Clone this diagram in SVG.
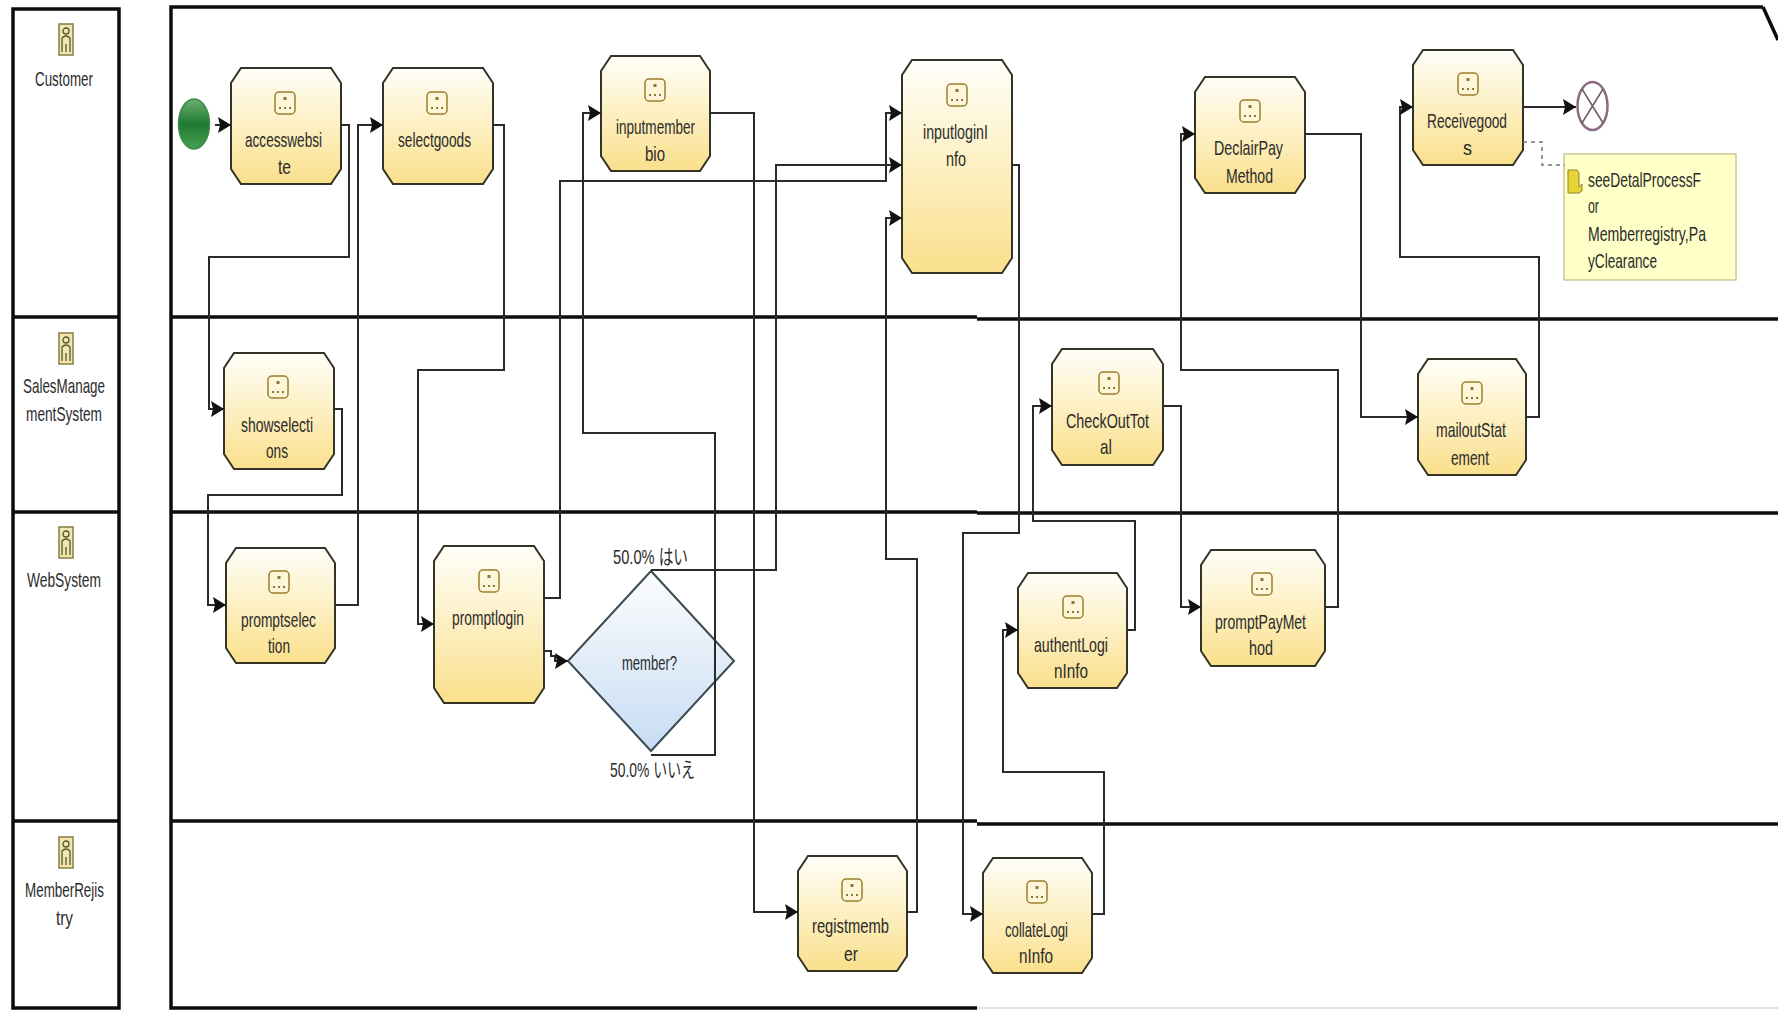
<svg xmlns="http://www.w3.org/2000/svg" width="1778" height="1010" viewBox="0 0 1778 1010">
<style>
text{font-family:"Liberation Sans","Noto Sans CJK JP",sans-serif;font-size:21px;fill:#2b2b2b}
.lane{fill:none;stroke:#0d0d0d;stroke-width:3.5}
.task{fill:url(#taskFill);stroke:#333326;stroke-width:2}
.conn{fill:none;stroke:#2a2a2a;stroke-width:2;marker-end:url(#arrow)}
.dash{fill:none;stroke:#777;stroke-width:1.5;stroke-dasharray:4 4}
.ibox{fill:#fdf6d8;stroke:#9a7d2e;stroke-width:1.5}
.idot{fill:#8a7a3a}
.actor{fill:#efe6b4;stroke:#8b7a3e;stroke-width:1.5}
.person{fill:none;stroke:#5d5228;stroke-width:1.3}
</style>
<defs>
<linearGradient id="taskFill" x1="0" y1="0" x2="0" y2="1"><stop offset="0" stop-color="#fffefa"/><stop offset="0.35" stop-color="#fdf4d2"/><stop offset="1" stop-color="#fae08c"/></linearGradient>
<linearGradient id="gateFill" x1="0" y1="0" x2="0" y2="1"><stop offset="0" stop-color="#fdfdfd"/><stop offset="1" stop-color="#c6dcf4"/></linearGradient>
<linearGradient id="startFill" x1="0" y1="0" x2="0" y2="1"><stop offset="0" stop-color="#6aae74"/><stop offset="0.5" stop-color="#1f7a30"/><stop offset="1" stop-color="#47a052"/></linearGradient>
<marker id="arrow" markerUnits="userSpaceOnUse" markerWidth="16" markerHeight="18" refX="13" refY="8" orient="auto"><path d="M0,0 L13,8 L0,16 L2,8 z" fill="#111"/></marker>
<g id="taskIcon"><rect class="ibox" x="-10" y="-11" width="20" height="22" rx="4"/><rect class="idot" x="-1.5" y="-6" width="3" height="3"/><rect class="idot" x="-6" y="4" width="2" height="2"/><rect class="idot" x="-1" y="4" width="2" height="2"/><rect class="idot" x="4" y="4" width="2" height="2"/></g>
<g id="actorIcon"><rect class="actor" x="-7" y="0" width="14" height="31"/><circle class="person" cx="0" cy="7" r="3"/><path class="person" d="M-4,28 V14 Q0,10 4,14 V28 M0,20 V28"/></g>
</defs>

<g id="lanes">
<path class="lane" d="M13,9 H119 V1008 H13 Z"/>
<path class="lane" d="M13,317 H119 M13,512 H119 M13,821 H119"/>
<path class="lane" d="M1763,7 H171 V1008 H977"/>
<path d="M1763,7 L1778,40" class="lane"/>
<path class="lane" d="M171,317 H977 M977,319 H1778 M171,512 H977 M977,513 H1778 M171,821 H977 M977,824 H1778"/>
<path d="M977,1008 H1778" fill="none" stroke="#e2e2e2" stroke-width="2"/>
</g>

<g id="actor-customer"><use href="#actorIcon" x="66" y="24"/><text x="35" y="86" textLength="58" lengthAdjust="spacingAndGlyphs">Customer</text></g>
<g id="actor-sales"><use href="#actorIcon" x="66" y="333"/><text x="23" y="393" textLength="82" lengthAdjust="spacingAndGlyphs">SalesManage</text><text x="26" y="421" textLength="76" lengthAdjust="spacingAndGlyphs">mentSystem</text></g>
<g id="actor-web"><use href="#actorIcon" x="66" y="527"/><text x="27" y="587" textLength="74" lengthAdjust="spacingAndGlyphs">WebSystem</text></g>
<g id="actor-registry"><use href="#actorIcon" x="66" y="837"/><text x="25" y="897" textLength="79" lengthAdjust="spacingAndGlyphs">MemberRejis</text><text x="56" y="925" textLength="17" lengthAdjust="spacingAndGlyphs">try</text></g>

<g id="start"><ellipse cx="194" cy="124" rx="15.5" ry="25" fill="url(#startFill)" stroke="#3c8a48" stroke-width="1.5"/></g>

<g id="accesswebsite"><polygon class="task" points="241,68 331,68 341,83 341,169 331,184 241,184 231,169 231,83"/><use href="#taskIcon" x="285" y="103"/><text x="245" y="147" textLength="77" lengthAdjust="spacingAndGlyphs">accesswebsi</text><text x="278" y="174" textLength="13" lengthAdjust="spacingAndGlyphs">te</text></g>
<g id="selectgoods"><polygon class="task" points="393,68 483,68 493,83 493,169 483,184 393,184 383,169 383,83"/><use href="#taskIcon" x="437" y="103"/><text x="398" y="147" textLength="73" lengthAdjust="spacingAndGlyphs">selectgoods</text></g>
<g id="inputmemberbio"><polygon class="task" points="611,56 700,56 710,71 710,156 700,171 611,171 601,156 601,71"/><use href="#taskIcon" x="655" y="90"/><text x="616" y="134" textLength="79" lengthAdjust="spacingAndGlyphs">inputmember</text><text x="645" y="161" textLength="20" lengthAdjust="spacingAndGlyphs">bio</text></g>
<g id="inputloginInfo"><polygon class="task" points="912,60 1002,60 1012,75 1012,258 1002,273 912,273 902,258 902,75"/><use href="#taskIcon" x="957" y="95"/><text x="923" y="139" textLength="65" lengthAdjust="spacingAndGlyphs">inputloginI</text><text x="946" y="166" textLength="20" lengthAdjust="spacingAndGlyphs">nfo</text></g>
<g id="DeclairPayMethod"><polygon class="task" points="1205,77 1295,77 1305,92 1305,178 1295,193 1205,193 1195,178 1195,92"/><use href="#taskIcon" x="1250" y="111"/><text x="1214" y="155" textLength="69" lengthAdjust="spacingAndGlyphs">DeclairPay</text><text x="1226" y="183" textLength="47" lengthAdjust="spacingAndGlyphs">Method</text></g>
<g id="Receivegoods"><polygon class="task" points="1423,50 1513,50 1523,65 1523,150 1513,165 1423,165 1413,150 1413,65"/><use href="#taskIcon" x="1468" y="84"/><text x="1427" y="128" textLength="80" lengthAdjust="spacingAndGlyphs">Receivegood</text><text x="1463" y="155" textLength="9" lengthAdjust="spacingAndGlyphs">s</text></g>
<g id="end"><ellipse cx="1592.5" cy="106" rx="15" ry="24" fill="#fff" stroke="#8c6c82" stroke-width="2.5"/><path d="M1582,89 L1603,123 M1603,89 L1582,123" stroke="#6d5a68" stroke-width="1.5" fill="none"/></g>
<g id="note"><rect x="1564" y="154" width="172" height="126" fill="#ffffc8" stroke="#c9c99a" stroke-width="1.5"/><path d="M1568,170 h9 l2,3 v14 l3,-3 v7 l-3,2 h-11 z" fill="#e8d23a" stroke="#8f8426" stroke-width="1"/><text x="1588" y="187" textLength="113" lengthAdjust="spacingAndGlyphs">seeDetalProcessF</text><text x="1588" y="213" textLength="11" lengthAdjust="spacingAndGlyphs">or</text><text x="1588" y="241" textLength="118" lengthAdjust="spacingAndGlyphs">Memberregistry,Pa</text><text x="1588" y="268" textLength="69" lengthAdjust="spacingAndGlyphs">yClearance</text></g>
<g id="showselections"><polygon class="task" points="234,353 324,353 334,368 334,454 324,469 234,469 224,454 224,368"/><use href="#taskIcon" x="278" y="387"/><text x="241" y="432" textLength="72" lengthAdjust="spacingAndGlyphs">showselecti</text><text x="266" y="458" textLength="22" lengthAdjust="spacingAndGlyphs">ons</text></g>
<g id="promptselection"><polygon class="task" points="236,548 325,548 335,563 335,648 325,663 236,663 226,648 226,563"/><use href="#taskIcon" x="279" y="582"/><text x="241" y="627" textLength="75" lengthAdjust="spacingAndGlyphs">promptselec</text><text x="268" y="653" textLength="22" lengthAdjust="spacingAndGlyphs">tion</text></g>
<g id="promptlogin"><polygon class="task" points="444,546 534,546 544,561 544,688 534,703 444,703 434,688 434,561"/><use href="#taskIcon" x="489" y="581"/><text x="452" y="625" textLength="72" lengthAdjust="spacingAndGlyphs">promptlogin</text></g>
<g id="member"><polygon points="651,571 734,661 651,751 568,661" fill="url(#gateFill)" stroke="#3a4a50" stroke-width="2"/><text x="622" y="670" textLength="55" lengthAdjust="spacingAndGlyphs">member?</text></g>
<g id="CheckOutTotal"><polygon class="task" points="1062,349 1153,349 1163,364 1163,450 1153,465 1062,465 1052,450 1052,364"/><use href="#taskIcon" x="1109" y="383"/><text x="1066" y="428" textLength="83" lengthAdjust="spacingAndGlyphs">CheckOutTot</text><text x="1100" y="454" textLength="12" lengthAdjust="spacingAndGlyphs">al</text></g>
<g id="mailoutStatement"><polygon class="task" points="1428,359 1516,359 1526,374 1526,460 1516,475 1428,475 1418,460 1418,374"/><use href="#taskIcon" x="1472" y="393"/><text x="1436" y="437" textLength="70" lengthAdjust="spacingAndGlyphs">mailoutStat</text><text x="1451" y="465" textLength="38" lengthAdjust="spacingAndGlyphs">ement</text></g>
<g id="promptPayMethod"><polygon class="task" points="1211,550 1315,550 1325,565 1325,651 1315,666 1211,666 1201,651 1201,565"/><use href="#taskIcon" x="1262" y="584"/><text x="1215" y="629" textLength="91" lengthAdjust="spacingAndGlyphs">promptPayMet</text><text x="1249" y="655" textLength="24" lengthAdjust="spacingAndGlyphs">hod</text></g>
<g id="authentLoginInfo"><polygon class="task" points="1028,573 1117,573 1127,588 1127,673 1117,688 1028,688 1018,673 1018,588"/><use href="#taskIcon" x="1073" y="607"/><text x="1034" y="652" textLength="74" lengthAdjust="spacingAndGlyphs">authentLogi</text><text x="1054" y="678" textLength="34" lengthAdjust="spacingAndGlyphs">nInfo</text></g>
<g id="registmember"><polygon class="task" points="808,856 897,856 907,871 907,956 897,971 808,971 798,956 798,871"/><use href="#taskIcon" x="852" y="890"/><text x="812" y="933" textLength="77" lengthAdjust="spacingAndGlyphs">registmemb</text><text x="844" y="961" textLength="14" lengthAdjust="spacingAndGlyphs">er</text></g>
<g id="collateLoginInfo"><polygon class="task" points="993,858 1082,858 1092,873 1092,958 1082,973 993,973 983,958 983,873"/><use href="#taskIcon" x="1037" y="892"/><text x="1005" y="937" textLength="63" lengthAdjust="spacingAndGlyphs">collateLogi</text><text x="1019" y="963" textLength="34" lengthAdjust="spacingAndGlyphs">nInfo</text></g>

<g id="connectors">
<path class="conn" d="M215,125 H231"/>
<path class="conn" d="M341,125 H349 V257 H209 V409 H224"/>
<path class="conn" d="M334,409 H342 V495 H208 V605 H226"/>
<path class="conn" d="M335,605 H358 V125 H383"/>
<path class="conn" d="M493,125 H504 V370 H418 V624 H434"/>
<path class="conn" d="M544,598 H560 V181 H886 V113 H902"/>
<path class="conn" d="M544,651 H551 V656 H555 V661 H568"/>
<path class="conn" d="M651,570 H776 V165 H902"/>
<path class="conn" d="M651,755 H715 V433 H583 V113 H601"/>
<path class="conn" d="M710,113 H754 V912 H798"/>
<path class="conn" d="M907,912 H917 V559 H886 V218 H902"/>
<path class="conn" d="M1012,165 H1019 V533 H963 V914 H983"/>
<path class="conn" d="M1092,914 H1104 V772 H1003 V630 H1018"/>
<path class="conn" d="M1127,630 H1135 V521 H1033 V406 H1052"/>
<path class="conn" d="M1163,406 H1181 V607 H1201"/>
<path class="conn" d="M1325,607 H1338 V370 H1181 V134 H1195"/>
<path class="conn" d="M1305,134 H1361 V417 H1418"/>
<path class="conn" d="M1526,417 H1539 V257 H1400 V107 H1413"/>
<path class="conn" d="M1523,107 H1576"/>
<path class="dash" d="M1523,142 H1542 V165 H1565"/>
</g>

<g id="edge-labels">
<text x="613" y="564" textLength="75" lengthAdjust="spacingAndGlyphs">50.0% はい</text>
<text x="610" y="777" textLength="85" lengthAdjust="spacingAndGlyphs">50.0% いいえ</text>
</g>
</svg>
